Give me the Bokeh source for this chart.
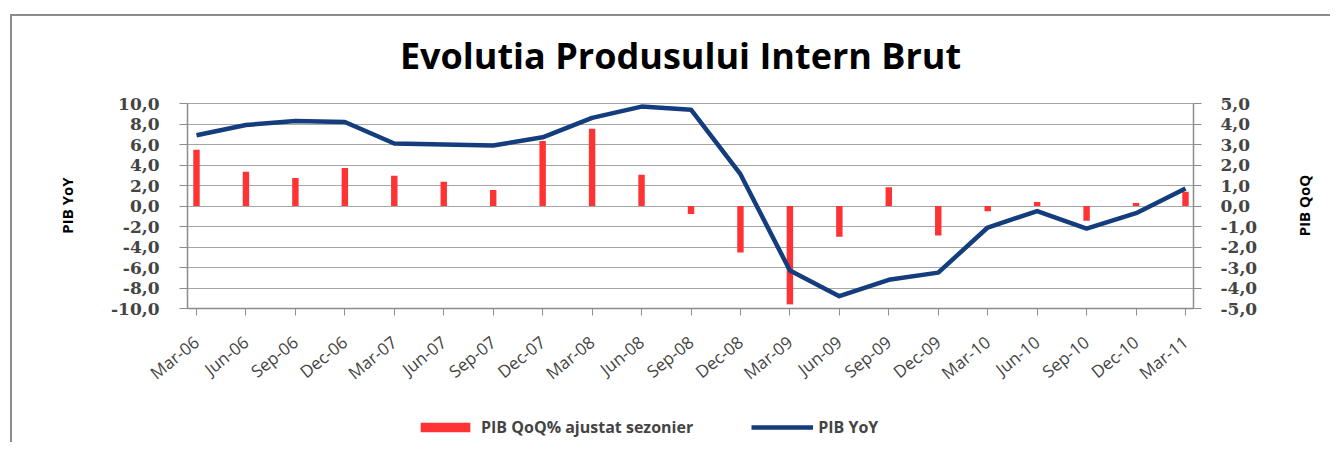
import math
from bokeh.plotting import figure
from bokeh.models import (Range1d, LinearAxis, FixedTicker, CustomJSTickFormatter,
                          Legend, LegendItem, Label)
from bokeh.embed import file_html
from bokeh.resources import INLINE

# ---------------- data ----------------
quarters = ["Mar-06", "Jun-06", "Sep-06", "Dec-06", "Mar-07", "Jun-07", "Sep-07",
            "Dec-07", "Mar-08", "Jun-08", "Sep-08", "Dec-08", "Mar-09", "Jun-09",
            "Sep-09", "Dec-09", "Mar-10", "Jun-10", "Sep-10", "Dec-10", "Mar-11"]
pib_qoq = [2.75, 1.67, 1.36, 1.85, 1.47, 1.18, 0.78, 3.17, 3.77, 1.52, -0.39,
           -2.27, -4.80, -1.50, 0.92, -1.44, -0.25, 0.20, -0.72, 0.15, 0.70]
pib_yoy = [6.9, 7.9, 8.3, 8.2, 6.1, 6.0, 5.9, 6.7, 8.6, 9.7, 9.4,
           3.1, -6.3, -8.8, -7.2, -6.5, -2.1, -0.5, -2.2, -0.7, 1.7]
yoy_ticks = [-10, -8, -6, -4, -2, 0, 2, 4, 6, 8, 10]
qoq_ticks = [-5, -4, -3, -2, -1, 0, 1, 2, 3, 4, 5]
title_text = "Evolutia Produsului Intern Brut"
yoy_label = "PIB YoY"
qoq_label = "PIB QoQ"
x_idx = list(range(len(quarters)))

# ---------------- layout geometry (page pixels) ----------------
GRID = "#a6a6a6"
AXIS = "#8c8c8c"
ORIGIN_X, ORIGIN_Y = 12, 16          # top-left of the canvas on the page
W, H = 1320, 428
X_FIRST_PX, X_LAST_PX = 196, 1185    # first / last quarter position
Y_TOP_PX, Y_BOT_PX = 103, 308        # +10 / -10 lines
AX_L_PX, AX_R_PX = 187, 1193         # left / right axis lines
n_steps = len(quarters) - 1
y_top, y_bot = yoy_ticks[-1], yoy_ticks[0]

px_per_x = (X_LAST_PX - X_FIRST_PX) / n_steps
px_per_y = (Y_BOT_PX - Y_TOP_PX) / (y_top - y_bot)
ratio = (qoq_ticks[-1] - qoq_ticks[0]) / (y_top - y_bot)


def xd(px):
    return (px - X_FIRST_PX) / px_per_x


def yd(py):
    return y_top - (py - Y_TOP_PX) / px_per_y


x_left, x_right = xd(AX_L_PX), xd(AX_R_PX)

p = figure(width=W, height=H, output_backend="svg", toolbar_location=None,
           x_range=Range1d(xd(ORIGIN_X), xd(ORIGIN_X + W)),
           y_range=Range1d(yd(ORIGIN_Y + H), yd(ORIGIN_Y)),
           min_border_left=0, min_border_right=0, min_border_top=0,
           min_border_bottom=0)
p.extra_y_ranges = {"qoq": Range1d(yd(ORIGIN_Y + H) * ratio, yd(ORIGIN_Y) * ratio)}
p.outline_line_color = None
p.background_fill_color = "white"
p.border_fill_color = "white"
p.styles = {"margin-left": "10px", "margin-top": "14px",
            "border-left": "2px solid #8c8c8c", "border-top": "2px solid #8c8c8c"}

num_code = "return tick.toFixed(1).replace('.', ',');"

# left axis
ya = p.yaxis[0]
ya.fixed_location = x_left
ya.ticker = FixedTicker(ticks=yoy_ticks)
ya.bounds = (y_bot, y_top)
ya.formatter = CustomJSTickFormatter(code=num_code)
ya.major_label_text_font = "DejaVu Serif"
ya.major_label_text_font_style = "bold"
ya.major_label_text_font_size = "17px"
ya.major_label_standoff = 20
ya.axis_line_color = AXIS
ya.axis_line_width = 1.5
ya.major_tick_line_color = AXIS
ya.major_tick_out = 8
ya.major_tick_in = 0
ya.minor_tick_line_color = None

# right axis
ra = LinearAxis(y_range_name="qoq", ticker=FixedTicker(ticks=qoq_ticks),
                formatter=CustomJSTickFormatter(code=num_code),
                bounds=(qoq_ticks[0], qoq_ticks[-1]), fixed_location=x_right)
ra.major_label_text_font = "DejaVu Serif"
ra.major_label_text_font_style = "bold"
ra.major_label_text_font_size = "17px"
ra.major_label_standoff = 19
ra.axis_line_color = AXIS
ra.axis_line_width = 1.5
ra.major_tick_line_color = AXIS
ra.major_tick_out = 8
ra.major_tick_in = 0
ra.minor_tick_line_color = None
p.add_layout(ra, "right")

# x axis, fixed at the -10 line
xa = p.xaxis[0]
xa.fixed_location = y_bot
xa.bounds = (x_left, x_right)
xa.ticker = FixedTicker(ticks=x_idx)
xa.formatter = CustomJSTickFormatter(args=dict(labels=quarters),
                                     code="return labels[Math.round(tick)] || '';")
xa.major_label_orientation = 0.68
xa.major_label_text_font = "Open Sans"
xa.major_label_text_font_size = "17px"
xa.major_label_standoff = 24
xa.axis_line_color = AXIS
xa.axis_line_width = 1.5
xa.major_tick_line_color = AXIS
xa.major_tick_out = 7
xa.major_tick_in = 0
xa.minor_tick_line_color = None

p.xgrid.visible = False
p.ygrid.ticker = FixedTicker(ticks=yoy_ticks)
p.ygrid.cross_bounds = (x_left, x_right)
p.ygrid.grid_line_color = GRID
p.ygrid.grid_line_width = 1.2

bars = p.vbar(x=x_idx, top=pib_qoq, bottom=0, width=0.13, y_range_name="qoq",
              fill_color="#ff3333", line_color=None)
line = p.line(x_idx, pib_yoy, line_color="#133d7d", line_width=4.5, line_join="round")

# title and axis titles
p.add_layout(Label(x=xd(680), y=yd(55), text=title_text, text_align="center",
                   text_baseline="middle", text_font="Open Sans", text_font_size="36px",
                   text_font_style="bold", text_color="black"))
p.add_layout(Label(x=xd(66), y=yd(205), text=yoy_label, angle=math.pi / 2,
                   text_align="center", text_baseline="middle", text_font="Open Sans",
                   text_font_size="15px", text_font_style="bold", text_color="black"))
p.add_layout(Label(x=xd(1303), y=yd(205), text=qoq_label, angle=math.pi / 2,
                   text_align="center", text_baseline="middle", text_font="Open Sans",
                   text_font_size="15px", text_font_style="bold", text_color="black"))

legend = Legend(items=[LegendItem(label="PIB QoQ% ajustat sezonier", renderers=[bars]),
                       LegendItem(label="PIB YoY", renderers=[line])],
                location=(414 - ORIGIN_X, ORIGIN_Y + H - 438), orientation="horizontal",
                glyph_width=62, glyph_height=12, label_standoff=5, spacing=58,
                padding=0, margin=0, border_line_color=None,
                background_fill_alpha=0, label_text_font="Open Sans",
                label_text_font_size="16px", label_text_font_style="bold")
p.add_layout(legend)

open("out.html", "w").write(file_html(p, INLINE))
